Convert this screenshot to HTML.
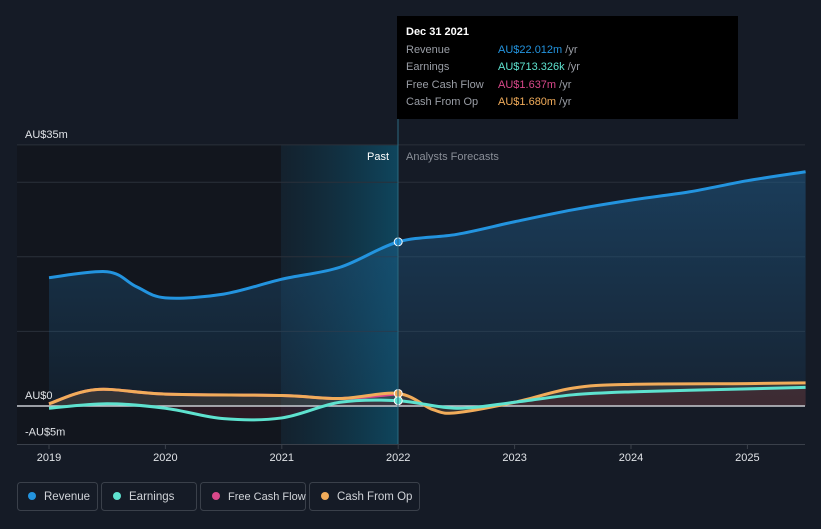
<!DOCTYPE html>
<html><head><style>
body{margin:0;background:#151b26;font-family:"Liberation Sans",sans-serif;}
svg text{font-family:"Liberation Sans",sans-serif;}
</style></head><body>
<svg width="821" height="524" viewBox="0 0 821 524">
<defs>
<linearGradient id="hl" x1="0" x2="1" y1="0" y2="0"><stop offset="0" stop-color="#0e3a4d" stop-opacity="0.2"/><stop offset="1" stop-color="#0e4a63" stop-opacity="0.9"/></linearGradient>
<linearGradient id="revfill" x1="0" x2="0" y1="0" y2="1"><stop offset="0" stop-color="#1f5f8f" stop-opacity="0.5"/><stop offset="1" stop-color="#1f5f8f" stop-opacity="0.12"/></linearGradient>
</defs>
<rect width="821" height="524" fill="#151b26"/>
<rect x="17" y="145" width="264" height="299" fill="#12161e"/>
<rect x="281" y="145" width="117" height="299" fill="url(#hl)"/>
<g id="grid"></g>
<g id="marks"></g>
<line x1="398" y1="118" x2="398" y2="444" stroke="#2b6a80" stroke-width="1"/>
<text x="389" y="160" fill="#fff" font-size="11" text-anchor="end">Past</text>
<text x="406" y="160" fill="#8a8f98" font-size="11">Analysts Forecasts</text>
<g id="axes"></g>
<g>
<rect x="397" y="16" width="341" height="103" fill="#000"/>
<text x="406" y="35" fill="#fff" font-size="11" font-weight="bold">Dec 31 2021</text>
<text x="406" y="53" fill="#9a9ea6" font-size="11">Revenue</text><text x="498" y="53" fill="#2394df" font-size="11">AU$22.012m <tspan fill="#9a9ea6">/yr</tspan></text>
<text x="406" y="70" fill="#9a9ea6" font-size="11">Earnings</text><text x="498" y="70" fill="#5ee2cf" font-size="11">AU$713.326k <tspan fill="#9a9ea6">/yr</tspan></text>
<text x="406" y="88" fill="#9a9ea6" font-size="11">Free Cash Flow</text><text x="498" y="88" fill="#d9488a" font-size="11">AU$1.637m <tspan fill="#9a9ea6">/yr</tspan></text>
<text x="406" y="105" fill="#9a9ea6" font-size="11">Cash From Op</text><text x="498" y="105" fill="#f1ac5a" font-size="11">AU$1.680m <tspan fill="#9a9ea6">/yr</tspan></text>
</g>
<g>
<rect x="17.5" y="482.5" width="80" height="28" rx="3" fill="none" stroke="#3a404a"/>
<circle cx="32" cy="496" r="4" fill="#2394df"/><text x="44" y="500" fill="#d0d3d8" font-size="11.5">Revenue</text>
<rect x="101.5" y="482.5" width="95" height="28" rx="3" fill="none" stroke="#3a404a"/>
<circle cx="117" cy="496" r="4" fill="#5ee2cf"/><text x="129" y="500" fill="#d0d3d8" font-size="11.5">Earnings</text>
<rect x="200.5" y="482.5" width="105" height="28" rx="3" fill="none" stroke="#3a404a"/>
<circle cx="216" cy="496" r="4" fill="#d9488a"/><text x="228" y="500" fill="#d0d3d8" font-size="11">Free Cash Flow</text>
<rect x="309.5" y="482.5" width="110" height="28" rx="3" fill="none" stroke="#3a404a"/>
<circle cx="325" cy="496" r="4" fill="#f1ac5a"/><text x="337" y="500" fill="#d0d3d8" font-size="11.5">Cash From Op</text>
</g>
</svg>
<script>
const revX=[2019,2019.5,2019.75,2020,2020.5,2021,2021.5,2022,2022.5,2023,2023.5,2024,2024.5,2025,2025.5];
const revenue=[17.2,18,16,14.5,15,17,18.6,22.0,23,24.7,26.3,27.6,28.7,30.2,31.4];
const earnX=[2019,2019.5,2020,2020.5,2021,2021.5,2022,2022.5,2023,2023.5,2024,2025,2025.5];
const earnings=[-0.3,0.3,-0.3,-1.7,-1.6,0.5,0.71,-0.3,0.5,1.5,1.9,2.3,2.5];
const cfoX=[2019,2019.4,2020,2021,2021.5,2022,2022.3,2022.5,2023,2023.5,2024,2025,2025.5];
const cashFromOp=[0.3,2.2,1.6,1.4,1.0,1.68,-0.5,-0.9,0.5,2.4,2.9,3.0,3.1];
const fcfX=[2019,2019.4,2020,2021,2021.5,2022];
const freeCashFlow=[0.3,2.2,1.6,1.4,1.0,1.64];
const yTicks=[35,0,-5];
const yTickLabels=["AU$35m","AU$0","-AU$5m"];
const gridVals=[30,20,10];
const xTicks=[2019,2020,2021,2022,2023,2024,2025];
const NS="http://www.w3.org/2000/svg";
const xs=v=>49+(v-2019)*116.4;
const ys=v=>406-v*7.46;
function el(t,a,p){const e=document.createElementNS(NS,t);for(const k in a)e.setAttribute(k,a[k]);p.appendChild(e);return e;}
function path(X,Y){const P=X.map((x,i)=>[xs(x),ys(Y[i])]);let d="M"+P[0][0]+","+P[0][1];
for(let i=0;i<P.length-1;i++){const p0=P[Math.max(0,i-1)],p1=P[i],p2=P[i+1],p3=P[Math.min(P.length-1,i+2)];
const t=1/6;const c1x=p1[0]+(p2[0]-p0[0])*t,c1y=p1[1]+(p2[1]-p0[1])*t,c2x=p2[0]-(p3[0]-p1[0])*t,c2y=p2[1]-(p3[1]-p1[1])*t;
d+=" C"+c1x+","+c1y+" "+c2x+","+c2y+" "+p2[0]+","+p2[1];}return d;}
const grid=document.getElementById('grid'),marks=document.getElementById('marks'),axes=document.getElementById('axes');
[35].concat(gridVals).forEach(v=>{const l=el('line',{x1:17,x2:805,y1:ys(v),y2:ys(v),stroke:'#2a303a'},grid);

});
const rd=path(revX,revenue);
const ra=el('path',{d:rd+" L"+xs(revX[revX.length-1])+","+ys(0)+" L"+xs(revX[0])+","+ys(0)+"Z",fill:'url(#revfill)'},marks);


const ed=path(earnX,earnings),cd=path(cfoX,cashFromOp),fd=path(fcfX,freeCashFlow);
const ca=el('path',{d:cd+" L"+xs(cfoX[cfoX.length-1])+","+ys(0)+" L"+xs(cfoX[0])+","+ys(0)+"Z",fill:'#6b5848',opacity:0.35},marks);


const ea=el('path',{d:ed+" L"+xs(earnX[earnX.length-1])+","+ys(0)+" L"+xs(earnX[0])+","+ys(0)+"Z",fill:'#4a1e2c',opacity:0.45},marks);


const z=el('line',{x1:17,x2:805,y1:ys(0),y2:ys(0),stroke:'#c8ccd2','stroke-width':1.5},marks);


const lines=[[rd,'#2394df','revenue-line'],[fd,'#d9488a','free-cash-flow-line'],[cd,'#f1ac5a','cash-from-op-line'],[ed,'#5ee2cf','earnings-line']];
lines.forEach(s=>{const p=el('path',{d:s[0],fill:'none',stroke:s[1],'stroke-width':3},marks);

});
[[revenue[7],'#2394df'],[cashFromOp[5],'#f1ac5a'],[earnings[6],'#5ee2cf']].forEach(d=>{const c=el('circle',{cx:xs(2022),cy:ys(d[0]),r:4,fill:d[1],stroke:'#fff','stroke-width':1},marks);

});
yTicks.forEach((v,i)=>{const t=el('text',{x:25,y:ys(v)-7,fill:'#e0e3e7','font-size':11},axes);t.textContent=yTickLabels[i];
if(v<0)t.setAttribute('y',ys(v)-8);

});
el('line',{x1:17,x2:805,y1:444.5,y2:444.5,stroke:'#3a404a'},axes);
xTicks.forEach(v=>{el('line',{x1:xs(v),x2:xs(v),y1:444,y2:449,stroke:'#3a404a'},axes);
const t=el('text',{x:xs(v),y:461,fill:'#e0e3e7','font-size':11,'text-anchor':'middle'},axes);t.textContent=v;

});
</script>
</body></html>
